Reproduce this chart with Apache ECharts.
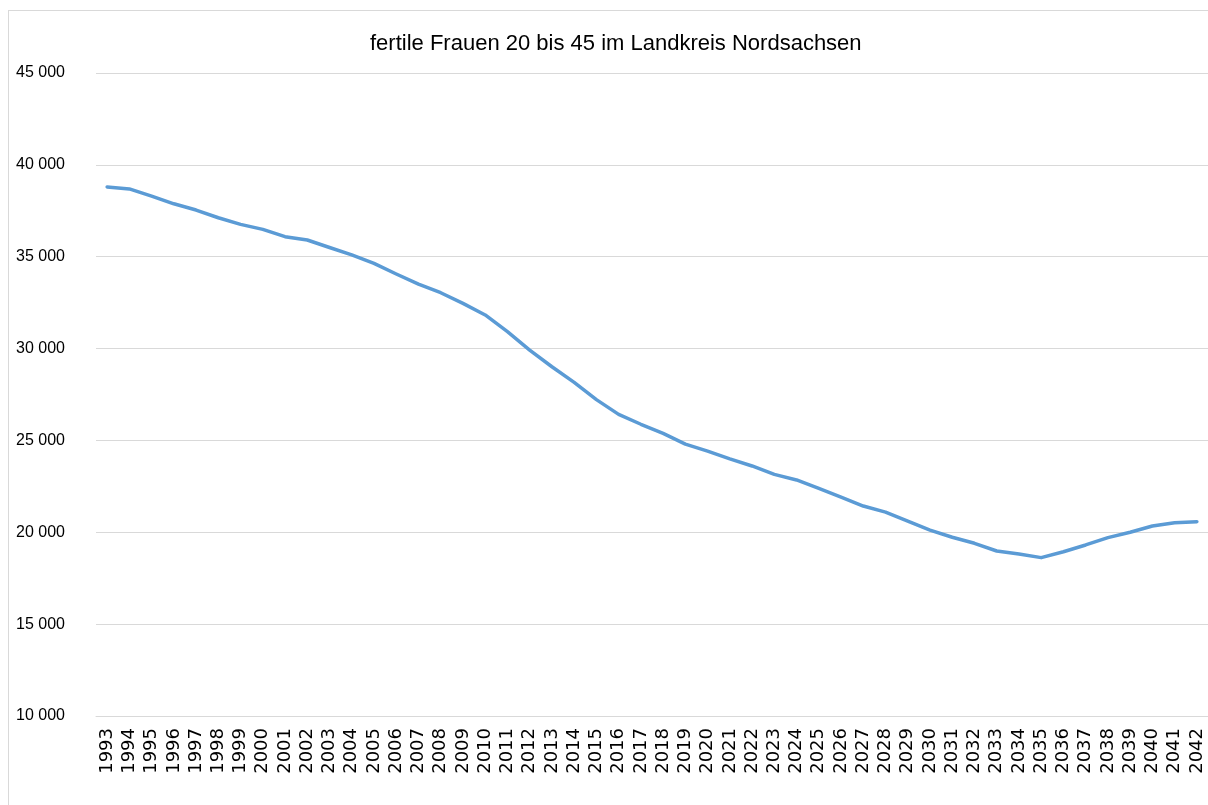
<!DOCTYPE html>
<html>
<head>
<meta charset="utf-8">
<script src="https://cdn.jsdelivr.net/npm/echarts@6/dist/echarts.min.js"></script>
<style>
html,body{margin:0;padding:0;background:#fff;overflow:hidden;}
#frame{position:absolute;left:8px;top:10px;width:1220px;height:820px;border:1px solid #d9d9d9;box-sizing:border-box;}
#chart{position:absolute;left:0;top:0;width:1208px;height:805px;}
</style>
</head>
<body>
<div id="frame"></div>
<div id="chart"></div>
<script>
const years = ['1993','1994','1995','1996','1997','1998','1999','2000','2001','2002','2003','2004','2005','2006','2007','2008','2009','2010','2011','2012','2013','2014','2015','2016','2017','2018','2019','2020','2021','2022','2023','2024','2025','2026','2027','2028','2029','2030','2031','2032','2033','2034','2035','2036','2037','2038','2039','2040','2041','2042'];
const women = [38800,38690,38300,37880,37540,37120,36760,36490,36090,35910,35500,35100,34640,34060,33510,33040,32460,31830,30920,29920,29010,28160,27220,26420,25880,25380,24800,24420,24000,23610,23150,22850,22390,21920,21430,21100,20610,20120,19730,19400,18980,18820,18620,18940,19310,19710,20000,20340,20520,20580];
const titleText = 'fertile Frauen 20 bis 45 im Landkreis Nordsachsen';

const chart = echarts.init(document.getElementById('chart'), null, {renderer:'canvas'});
chart.setOption({
  backgroundColor: 'transparent',
  animation: false,
  title: {
    text: titleText,
    left: 365,
    top: 28,
    textStyle: {fontFamily: 'Liberation Sans', fontSize: 22, fontWeight: 'normal', color: '#000'}
  },
  grid: {left: 96, right: 0, top: 73, bottom: 89, containLabel: false},
  xAxis: {
    type: 'category',
    data: years,
    boundaryGap: true,
    axisLine: {show: true, lineStyle: {color: '#d9d9d9', width: 1}},
    axisTick: {show: false},
    axisLabel: {rotate: 90, interval: 0, margin: 12, color: '#000', fontFamily: 'DejaVu Sans', fontSize: 18}
  },
  yAxis: {
    type: 'value',
    min: 10000,
    max: 45000,
    interval: 5000,
    axisLine: {show: false},
    axisTick: {show: false},
    splitLine: {lineStyle: {color: '#d9d9d9', width: 1}},
    axisLabel: {
      margin: 31,
      color: '#000',
      fontFamily: 'Liberation Sans',
      fontSize: 16,
      formatter: v => String(v).replace(/\B(?=(\d{3})+(?!\d))/g, ' ')
    }
  },
  series: [{
    type: 'line',
    data: women,
    symbol: 'none',
    smooth: false,
    lineStyle: {color: '#5b9bd5', width: 3.5, cap: 'round', join: 'round'}
  }]
});
</script>
</body>
</html>
